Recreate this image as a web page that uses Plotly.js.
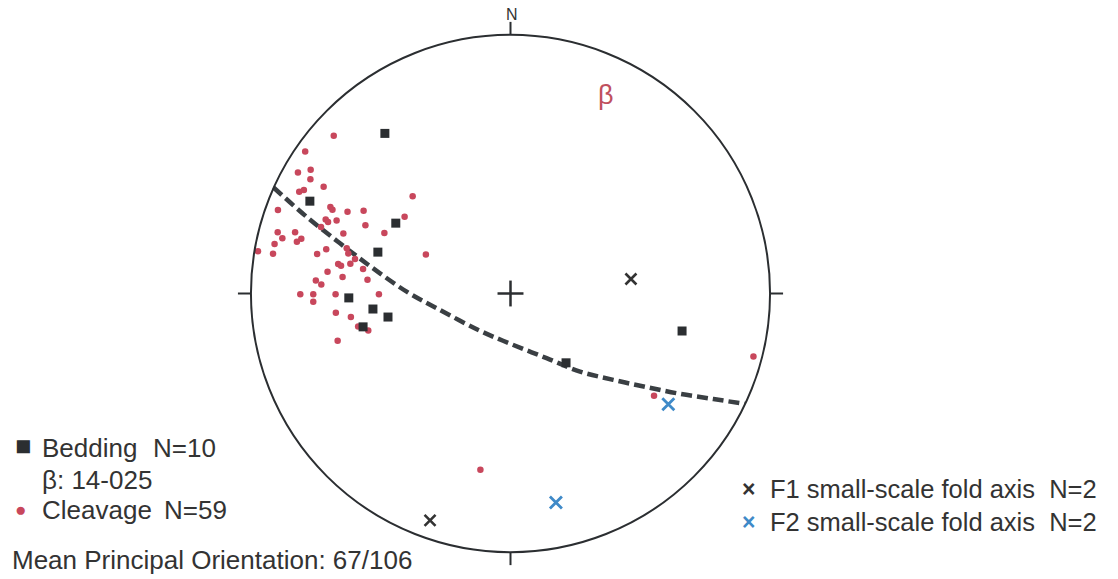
<!DOCTYPE html>
<html>
<head>
<meta charset="utf-8">
<script src="https://cdn.plot.ly/plotly-3.0.1.min.js"></script>
<style>html,body{margin:0;padding:0;background:#fff;}#chart{width:1118px;height:579px;}</style>
</head>
<body>
<div id="chart"></div>
<script>
// Positions on the equal-area net, in units of the primitive circle radius (east, north)
const beddingX = [-0.484, -0.773, -0.442, -0.511, -0.623, -0.530, -0.472, -0.568, 0.214, 0.661];
const beddingY = [0.619, 0.357, 0.272, 0.160, -0.017, -0.060, -0.091, -0.129, -0.268, -0.145];

const cleavageX = [-0.681,-0.791,-0.819,-0.770,-0.771,-0.720,-0.814,-0.796,-0.377,-0.896,
  -0.694,-0.686,-0.628,-0.566,-0.408,-0.712,-0.670,-0.730,-0.644,-0.559,
  -0.486,-0.897,-0.879,-0.830,-0.806,-0.823,-0.909,-0.915,-0.973,-0.745,
  -0.710,-0.631,-0.625,-0.326,-0.664,-0.653,-0.617,-0.568,-0.705,-0.647,
  -0.551,-0.750,-0.729,-0.810,-0.760,-0.760,-0.674,-0.507,-0.673,-0.615,
  -0.587,-0.570,-0.548,-0.666,-0.116,0.936,0.553,-0.703,-0.599];
const cleavageY = [0.610,0.549,0.468,0.478,0.442,0.413,0.393,0.400,0.376,0.323,
  0.334,0.324,0.316,0.320,0.297,0.286,0.282,0.257,0.232,0.264,
  0.234,0.237,0.214,0.237,0.212,0.200,0.191,0.154,0.163,0.153,
  0.171,0.175,0.155,0.151,0.114,0.107,0.115,0.095,0.084,0.064,
  0.053,0.050,0.035,-0.003,-0.003,-0.032,-0.003,-0.003,-0.074,-0.091,
  -0.128,-0.128,-0.143,-0.183,-0.681,-0.244,-0.395,0.276,0.133];

const f1X = [0.464, -0.310];
const f1Y = [0.056, -0.877];
const f2X = [0.608, 0.175];
const f2Y = [-0.428, -0.808];

// traced beta great circle
const gcX = [-0.913,-0.785,-0.657,-0.529,-0.400,-0.284,-0.118,0.011,0.139,0.268,0.396,0.525,0.653,0.782,0.904];
const gcY = [0.410,0.296,0.194,0.097,0.007,-0.057,-0.144,-0.199,-0.250,-0.302,-0.334,-0.362,-0.388,-0.408,-0.427];

const legendLeft = ["Bedding", "N=10", "\u03b2: 14-025", "Cleavage", "N=59", "Mean Principal Orientation: 67/106"];
const legendRight = ["F1 small-scale fold axis  N=2", "F2 small-scale fold axis  N=2"];

const dark = '#2b2e31';
const red = '#c8475c';
const blue = '#3f8ac8';
const txt = '#333333';
const FONT = 'Liberation Sans, Arial, sans-serif';

const traces = [
  {x: gcX, y: gcY, mode: 'lines', line: {color: '#3a3f43', width: 4.5, dash: '11px,5px', shape: 'spline'}, hoverinfo: 'skip', cliponaxis: false},
  {x: cleavageX, y: cleavageY, mode: 'markers', marker: {symbol: 'circle', size: 6.5, color: red}, cliponaxis: false},
  {x: beddingX, y: beddingY, mode: 'markers', marker: {symbol: 'square', size: 9, color: dark}, cliponaxis: false},
  {x: f1X, y: f1Y, mode: 'markers', marker: {symbol: 'x-thin-open', size: 11, color: '#333', line: {color: '#333', width: 2.6}}, cliponaxis: false},
  {x: f2X, y: f2Y, mode: 'markers', marker: {symbol: 'x-thin-open', size: 12, color: blue, line: {color: blue, width: 2.8}}, cliponaxis: false}
];

// pixel -> paper helpers for text placement (plot area: left 225, width 571, top 9, height 569)
const pxp = p => (p - 225) / 571;
const pyp = p => (578 - p) / 569;

const ann = (x, y, text, size, opts) => Object.assign({x: pxp(x), y: pyp(y), xref: 'paper', yref: 'paper', text: text, showarrow: false,
  xanchor: 'left', yanchor: 'middle', font: {family: FONT, size: size, color: txt}}, opts || {});

const annotations = [
  ann(512, 14, 'N', 16, {xanchor: 'center'}),
  ann(606, 95, '\u03b2', 27, {xanchor: 'center', font: {family: FONT, size: 27, color: '#c0505e'}}),
  ann(23, 446, '\u25a0', 0, {xanchor: 'center', font: {family: FONT, size: 27, color: dark}}),
  ann(40, 448, legendLeft[0], 26),
  ann(151, 448, legendLeft[1], 26),
  ann(40, 480, legendLeft[2], 26),
  ann(20, 509, '\u25cf', 0, {xanchor: 'center', font: {family: FONT, size: 19, color: red}}),
  ann(40, 510, legendLeft[3], 26),
  ann(162, 510, legendLeft[4], 26),
  ann(10, 560, legendLeft[5], 26),
  ann(748, 489, '<b>\u00d7</b>', 0, {xanchor: 'center', font: {family: FONT, size: 23, color: '#333'}}),
  ann(768, 489, legendRight[0], 25.5),
  ann(748, 522, '<b>\u00d7</b>', 0, {xanchor: 'center', font: {family: FONT, size: 23, color: blue}}),
  ann(768, 522, legendRight[1], 25.5)
];

const tickLen = 13 / 259;
const shapes = [
  {type: 'circle', xref: 'x', yref: 'y', x0: -1, x1: 1, y0: -1, y1: 1, line: {color: dark, width: 2}},
  {type: 'line', xref: 'x', yref: 'y', x0: 0, x1: 0, y0: 1, y1: 1 + tickLen, line: {color: dark, width: 2}},
  {type: 'line', xref: 'x', yref: 'y', x0: 0, x1: 0, y0: -1, y1: -1 - tickLen, line: {color: dark, width: 2}},
  {type: 'line', xref: 'x', yref: 'y', x0: 1, x1: 1 + tickLen, y0: 0, y1: 0, line: {color: dark, width: 2}},
  {type: 'line', xref: 'x', yref: 'y', x0: -1, x1: -1 - tickLen, y0: 0, y1: 0, line: {color: dark, width: 2}},
  {type: 'line', xref: 'x', yref: 'y', x0: -0.05, x1: 0.05, y0: 0, y1: 0, line: {color: dark, width: 2.5}},
  {type: 'line', xref: 'x', yref: 'y', x0: 0, x1: 0, y0: -0.05, y1: 0.05, line: {color: dark, width: 2.5}}
];

const layout = {
  width: 1118, height: 579,
  margin: {l: 225, r: 322, t: 9, b: 1, pad: 0},
  paper_bgcolor: '#ffffff', plot_bgcolor: 'rgba(0,0,0,0)',
  showlegend: false,
  xaxis: {range: [-1.1, 1.1], visible: false, fixedrange: true},
  yaxis: {range: [-1.1, 1.1], visible: false, fixedrange: true},
  shapes: shapes,
  annotations: annotations
};

Plotly.newPlot('chart', traces, layout, {displayModeBar: false, staticPlot: true});
</script>
</body>
</html>
